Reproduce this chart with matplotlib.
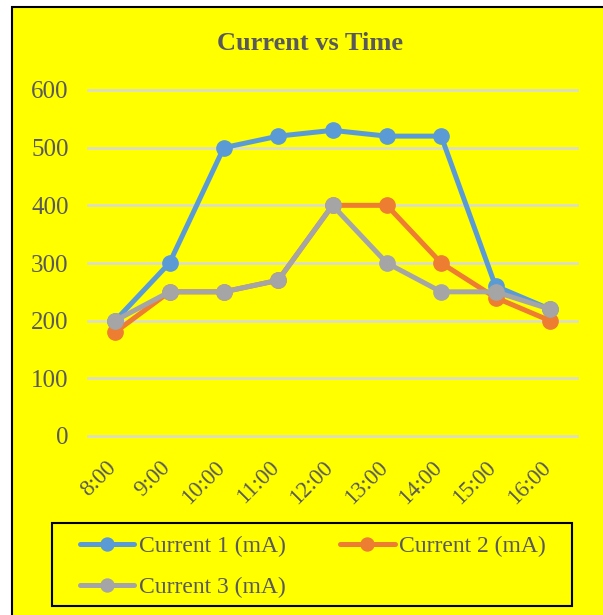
import matplotlib.pyplot as plt
from matplotlib.patches import Rectangle
import matplotlib.transforms as mtransforms

# data
times = ['8:00', '9:00', '10:00', '11:00', '12:00', '13:00', '14:00', '15:00', '16:00']
current_1 = [200, 300, 500, 520, 530, 520, 520, 260, 220]
current_2 = [180, 250, 250, 270, 400, 400, 300, 240, 200]
current_3 = [200, 250, 250, 270, 400, 300, 250, 250, 220]

series = [
    ('Current 1 (mA)', current_1, '#5B9BD5'),
    ('Current 2 (mA)', current_2, '#ED7D31'),
    ('Current 3 (mA)', current_3, '#A5A5A5'),
]

plt.rcParams['font.family'] = ['Liberation Serif', 'DejaVu Serif']
TXT = '#595959'

fig = plt.figure(figsize=(6.03, 6.15), dpi=100)
fig.patch.set_facecolor('white')

# yellow chart area with black border
W, H = 603, 615
fig.patches.append(Rectangle((12 / W, -0.05), 1.0, (H - 7) / H + 0.05,
                             transform=fig.transFigure, facecolor='#FFFF00',
                             edgecolor='black', linewidth=1.5, zorder=-10))

ax = fig.add_axes([88 / W, 1 - 436 / H, (577 - 88) / W, (436 - 90) / H])
ax.set_facecolor('none')

x = list(range(len(times)))
lines = []
for label, vals, color in series:
    ln, = ax.plot(x, vals, color=color, linewidth=3.6, marker='o', markersize=11,
                  label=label, clip_on=False, solid_capstyle='round')
    lines.append(ln)

ax.set_xlim(-0.5, len(times) - 0.5)
ax.set_ylim(0, 600)
ax.set_yticks(range(0, 601, 100))
ax.yaxis.grid(True, color='#D9D9D9', linewidth=1.8)
ax.set_axisbelow(True)
for s in ax.spines.values():
    s.set_visible(False)
ax.tick_params(axis='both', length=0, labelcolor=TXT)
ax.tick_params(axis='y', pad=14, labelsize=18)
ax.tick_params(axis='x', pad=15)

ax.set_xticks(x)
ax.set_xticklabels(times, rotation=45, ha='right', va='top', fontsize=16.5)
# nudge rotated labels a little to the right (after tick_params, which resets transforms)
offset = mtransforms.ScaledTranslation(5 / 100, 0, fig.dpi_scale_trans)
for lbl in ax.get_xticklabels():
    lbl.set_transform(lbl.get_transform() + offset)
for gl in ax.yaxis.get_gridlines():
    gl.set_clip_on(False)

fig.text(310 / W, 1 - 43 / H, 'Current vs Time', ha='center', va='center',
         fontsize=19, fontweight='bold', color=TXT)

# legend frame drawn by hand, legend itself frameless
fig.patches.append(Rectangle((52 / W, 1 - 606 / H), (572 - 52) / W, (606 - 523) / H,
                             transform=fig.transFigure, facecolor='none',
                             edgecolor='black', linewidth=1.5))
order = [0, 2, 1]  # fill rows: C1 C2 / C3
leg = fig.legend([lines[i] for i in order], [series[i][0] for i in order],
                 loc='upper left', ncol=2, bbox_to_anchor=(80 / W, 1 - 536 / H),
                 fontsize=17, frameon=False, handlelength=2.3,
                 handletextpad=0.2, borderpad=0, labelspacing=0.8,
                 columnspacing=2.3, borderaxespad=0, markerscale=0.85)
for t in leg.get_texts():
    t.set_color(TXT)

fig.savefig('out.png', dpi=100)
